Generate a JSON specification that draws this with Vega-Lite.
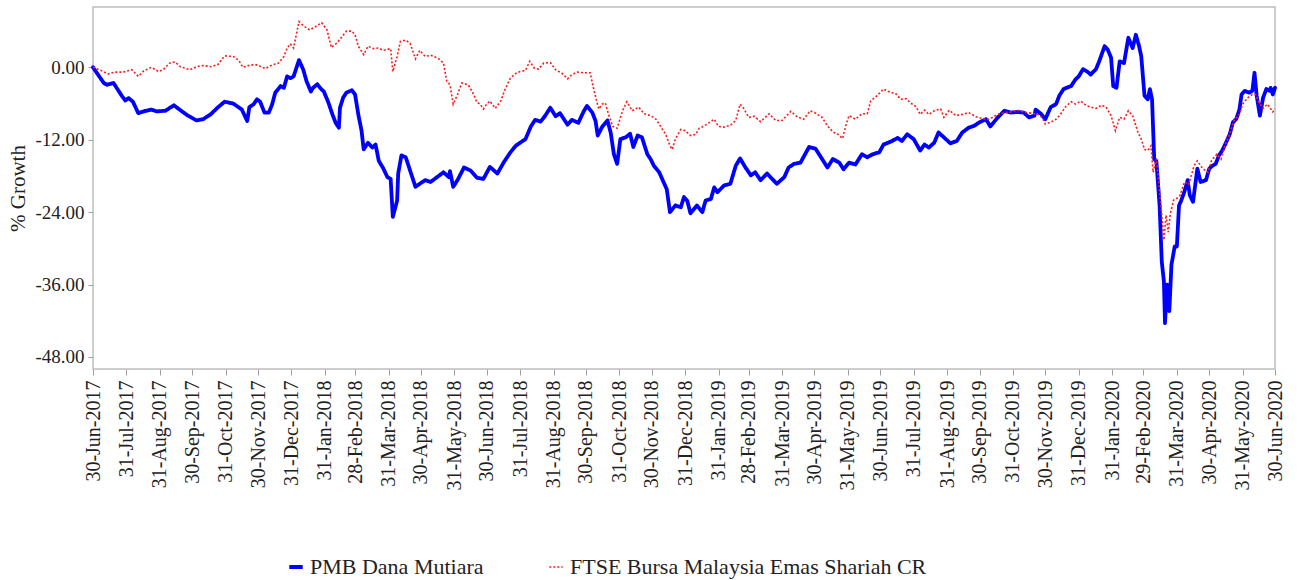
{
  "$schema": "https://vega.github.io/schema/vega-lite/v6.json",
  "autosize": {"type": "none"},
  "padding": {"left": 93, "top": 7, "right": 23, "bottom": 211},
  "width": 1182,
  "height": 362,
  "background": "white",
  "config": {
    "view": {"stroke": "#bfbfbf", "strokeWidth": 1.5},
    "axis": {"labelFont": "Liberation Serif", "titleFont": "Liberation Serif", "labelColor": "#222", "titleColor": "#222", "tickColor": "#a0a0a0", "domain": false, "grid": false},
    "legend": {"labelFont": "Liberation Serif"}
  },
  "datasets": {
    "series": [
      {"d":"2017-06-30","v":0,"s":"P"},{"d":"2017-07-10","v":-2.6,"s":"P"},{"d":"2017-07-13","v":-2.9,"s":"P"},{"d":"2017-07-19","v":-2.6,"s":"P"},{"d":"2017-07-27","v":-4.8,"s":"P"},{"d":"2017-07-30","v":-5.5,"s":"P"},{"d":"2017-08-02","v":-5.1,"s":"P"},{"d":"2017-08-06","v":-5.7,"s":"P"},{"d":"2017-08-11","v":-7.6,"s":"P"},{"d":"2017-08-16","v":-7.3,"s":"P"},{"d":"2017-08-23","v":-7.0,"s":"P"},{"d":"2017-08-28","v":-7.3,"s":"P"},{"d":"2017-09-05","v":-7.2,"s":"P"},{"d":"2017-09-13","v":-6.3,"s":"P"},{"d":"2017-09-19","v":-7.1,"s":"P"},{"d":"2017-09-26","v":-8.0,"s":"P"},{"d":"2017-10-04","v":-8.8,"s":"P"},{"d":"2017-10-10","v":-8.6,"s":"P"},{"d":"2017-10-17","v":-7.8,"s":"P"},{"d":"2017-10-24","v":-6.6,"s":"P"},{"d":"2017-10-30","v":-5.7,"s":"P"},{"d":"2017-11-07","v":-6.0,"s":"P"},{"d":"2017-11-15","v":-7.0,"s":"P"},{"d":"2017-11-20","v":-8.9,"s":"P"},{"d":"2017-11-22","v":-6.6,"s":"P"},{"d":"2017-11-26","v":-6.1,"s":"P"},{"d":"2017-11-29","v":-5.3,"s":"P"},{"d":"2017-12-02","v":-5.7,"s":"P"},{"d":"2017-12-06","v":-7.5,"s":"P"},{"d":"2017-12-10","v":-7.5,"s":"P"},{"d":"2017-12-13","v":-6.2,"s":"P"},{"d":"2017-12-16","v":-4.2,"s":"P"},{"d":"2017-12-21","v":-3.1,"s":"P"},{"d":"2017-12-24","v":-3.4,"s":"P"},{"d":"2017-12-27","v":-1.5,"s":"P"},{"d":"2017-12-30","v":-1.8,"s":"P"},
      {"d":"2018-01-02","v":-1.5,"s":"P"},{"d":"2018-01-07","v":1.2,"s":"P"},{"d":"2018-01-11","v":-0.4,"s":"P"},{"d":"2018-01-14","v":-2.3,"s":"P"},{"d":"2018-01-18","v":-4.0,"s":"P"},{"d":"2018-01-20","v":-3.4,"s":"P"},{"d":"2018-01-24","v":-2.8,"s":"P"},{"d":"2018-01-27","v":-3.5,"s":"P"},{"d":"2018-01-30","v":-4.0,"s":"P"},{"d":"2018-02-03","v":-5.7,"s":"P"},{"d":"2018-02-07","v":-7.8,"s":"P"},{"d":"2018-02-10","v":-9.2,"s":"P"},{"d":"2018-02-13","v":-10.0,"s":"P"},{"d":"2018-02-14","v":-6.7,"s":"P"},{"d":"2018-02-17","v":-5.0,"s":"P"},{"d":"2018-02-20","v":-4.2,"s":"P"},{"d":"2018-02-25","v":-3.8,"s":"P"},{"d":"2018-02-28","v":-4.5,"s":"P"},{"d":"2018-03-03","v":-7.8,"s":"P"},{"d":"2018-03-06","v":-10.5,"s":"P"},{"d":"2018-03-08","v":-13.6,"s":"P"},{"d":"2018-03-12","v":-12.5,"s":"P"},{"d":"2018-03-16","v":-13.3,"s":"P"},{"d":"2018-03-19","v":-12.8,"s":"P"},{"d":"2018-03-22","v":-15.5,"s":"P"},{"d":"2018-03-26","v":-16.7,"s":"P"},{"d":"2018-03-30","v":-18.2,"s":"P"},{"d":"2018-04-02","v":-18.5,"s":"P"},{"d":"2018-04-04","v":-24.8,"s":"P"},{"d":"2018-04-08","v":-22.1,"s":"P"},{"d":"2018-04-09","v":-17.6,"s":"P"},{"d":"2018-04-12","v":-14.6,"s":"P"},{"d":"2018-04-16","v":-14.9,"s":"P"},{"d":"2018-04-20","v":-17.1,"s":"P"},{"d":"2018-04-25","v":-19.8,"s":"P"},{"d":"2018-04-29","v":-19.3,"s":"P"},{"d":"2018-05-04","v":-18.7,"s":"P"},{"d":"2018-05-09","v":-19.0,"s":"P"},{"d":"2018-05-15","v":-18.2,"s":"P"},{"d":"2018-05-21","v":-17.4,"s":"P"},{"d":"2018-05-26","v":-18.2,"s":"P"},{"d":"2018-05-27","v":-17.2,"s":"P"},{"d":"2018-05-30","v":-19.8,"s":"P"},{"d":"2018-06-03","v":-18.7,"s":"P"},{"d":"2018-06-09","v":-16.6,"s":"P"},{"d":"2018-06-15","v":-17.1,"s":"P"},{"d":"2018-06-21","v":-18.3,"s":"P"},{"d":"2018-06-27","v":-18.5,"s":"P"},{"d":"2018-07-03","v":-16.5,"s":"P"},{"d":"2018-07-10","v":-17.6,"s":"P"},{"d":"2018-07-16","v":-15.7,"s":"P"},{"d":"2018-07-22","v":-14.1,"s":"P"},{"d":"2018-07-27","v":-13.0,"s":"P"},{"d":"2018-07-31","v":-12.5,"s":"P"},{"d":"2018-08-05","v":-11.9,"s":"P"},{"d":"2018-08-10","v":-9.8,"s":"P"},{"d":"2018-08-14","v":-8.7,"s":"P"},{"d":"2018-08-19","v":-9.0,"s":"P"},{"d":"2018-08-23","v":-8.1,"s":"P"},{"d":"2018-08-28","v":-6.7,"s":"P"},{"d":"2018-09-02","v":-8.1,"s":"P"},{"d":"2018-09-06","v":-7.6,"s":"P"},{"d":"2018-09-13","v":-9.5,"s":"P"},{"d":"2018-09-17","v":-8.7,"s":"P"},{"d":"2018-09-23","v":-9.2,"s":"P"},{"d":"2018-09-28","v":-7.3,"s":"P"},{"d":"2018-10-01","v":-6.4,"s":"P"},{"d":"2018-10-06","v":-7.5,"s":"P"},{"d":"2018-10-09","v":-8.9,"s":"P"},{"d":"2018-10-11","v":-11.3,"s":"P"},{"d":"2018-10-15","v":-9.9,"s":"P"},{"d":"2018-10-20","v":-8.8,"s":"P"},{"d":"2018-10-23","v":-10.8,"s":"P"},{"d":"2018-10-26","v":-14.4,"s":"P"},{"d":"2018-10-29","v":-16.0,"s":"P"},{"d":"2018-11-01","v":-11.9,"s":"P"},{"d":"2018-11-06","v":-11.6,"s":"P"},{"d":"2018-11-10","v":-11.0,"s":"P"},{"d":"2018-11-13","v":-13.2,"s":"P"},{"d":"2018-11-17","v":-11.3,"s":"P"},{"d":"2018-11-21","v":-11.6,"s":"P"},{"d":"2018-11-26","v":-14.4,"s":"P"},{"d":"2018-11-29","v":-15.2,"s":"P"},{"d":"2018-12-02","v":-16.3,"s":"P"},{"d":"2018-12-07","v":-17.4,"s":"P"},{"d":"2018-12-11","v":-19.0,"s":"P"},{"d":"2018-12-14","v":-20.2,"s":"P"},{"d":"2018-12-17","v":-24.0,"s":"P"},{"d":"2018-12-22","v":-22.9,"s":"P"},{"d":"2018-12-27","v":-23.2,"s":"P"},{"d":"2018-12-30","v":-21.5,"s":"P"},
      {"d":"2019-01-02","v":-22.1,"s":"P"},{"d":"2019-01-05","v":-24.2,"s":"P"},{"d":"2019-01-11","v":-22.9,"s":"P"},{"d":"2019-01-16","v":-24.0,"s":"P"},{"d":"2019-01-19","v":-22.1,"s":"P"},{"d":"2019-01-24","v":-21.8,"s":"P"},{"d":"2019-01-27","v":-19.9,"s":"P"},{"d":"2019-01-30","v":-20.7,"s":"P"},{"d":"2019-02-05","v":-19.6,"s":"P"},{"d":"2019-02-11","v":-19.3,"s":"P"},{"d":"2019-02-16","v":-16.3,"s":"P"},{"d":"2019-02-20","v":-15.1,"s":"P"},{"d":"2019-02-25","v":-16.6,"s":"P"},{"d":"2019-03-02","v":-17.9,"s":"P"},{"d":"2019-03-06","v":-17.4,"s":"P"},{"d":"2019-03-11","v":-18.7,"s":"P"},{"d":"2019-03-17","v":-17.6,"s":"P"},{"d":"2019-03-26","v":-19.3,"s":"P"},{"d":"2019-04-02","v":-18.2,"s":"P"},{"d":"2019-04-06","v":-16.6,"s":"P"},{"d":"2019-04-11","v":-16.0,"s":"P"},{"d":"2019-04-17","v":-15.8,"s":"P"},{"d":"2019-04-25","v":-13.2,"s":"P"},{"d":"2019-05-01","v":-13.5,"s":"P"},{"d":"2019-05-06","v":-14.9,"s":"P"},{"d":"2019-05-12","v":-16.6,"s":"P"},{"d":"2019-05-17","v":-15.2,"s":"P"},{"d":"2019-05-23","v":-15.8,"s":"P"},{"d":"2019-05-27","v":-16.9,"s":"P"},{"d":"2019-06-01","v":-15.8,"s":"P"},{"d":"2019-06-07","v":-16.1,"s":"P"},{"d":"2019-06-13","v":-14.4,"s":"P"},{"d":"2019-06-18","v":-14.9,"s":"P"},{"d":"2019-06-23","v":-14.4,"s":"P"},{"d":"2019-06-29","v":-14.1,"s":"P"},{"d":"2019-07-03","v":-12.8,"s":"P"},{"d":"2019-07-10","v":-12.3,"s":"P"},{"d":"2019-07-16","v":-11.7,"s":"P"},{"d":"2019-07-20","v":-12.2,"s":"P"},{"d":"2019-07-25","v":-11.1,"s":"P"},{"d":"2019-07-31","v":-11.9,"s":"P"},{"d":"2019-08-06","v":-13.8,"s":"P"},{"d":"2019-08-10","v":-12.8,"s":"P"},{"d":"2019-08-14","v":-13.3,"s":"P"},{"d":"2019-08-19","v":-12.5,"s":"P"},{"d":"2019-08-23","v":-10.8,"s":"P"},{"d":"2019-08-28","v":-11.6,"s":"P"},{"d":"2019-09-03","v":-12.6,"s":"P"},{"d":"2019-09-09","v":-12.2,"s":"P"},{"d":"2019-09-14","v":-10.8,"s":"P"},{"d":"2019-09-20","v":-10.0,"s":"P"},{"d":"2019-09-25","v":-9.7,"s":"P"},{"d":"2019-09-30","v":-9.1,"s":"P"},{"d":"2019-10-06","v":-8.6,"s":"P"},{"d":"2019-10-10","v":-9.8,"s":"P"},{"d":"2019-10-17","v":-8.3,"s":"P"},{"d":"2019-10-23","v":-7.2,"s":"P"},{"d":"2019-10-29","v":-7.5,"s":"P"},{"d":"2019-11-04","v":-7.4,"s":"P"},{"d":"2019-11-10","v":-7.5,"s":"P"},{"d":"2019-11-15","v":-8.3,"s":"P"},{"d":"2019-11-20","v":-8.0,"s":"P"},{"d":"2019-11-21","v":-7.0,"s":"P"},{"d":"2019-11-26","v":-7.7,"s":"P"},{"d":"2019-11-30","v":-8.6,"s":"P"},{"d":"2019-12-05","v":-6.6,"s":"P"},{"d":"2019-12-10","v":-6.1,"s":"P"},{"d":"2019-12-13","v":-4.7,"s":"P"},{"d":"2019-12-17","v":-3.6,"s":"P"},{"d":"2019-12-24","v":-3.1,"s":"P"},{"d":"2019-12-28","v":-2.0,"s":"P"},{"d":"2019-12-31","v":-1.5,"s":"P"},
      {"d":"2020-01-04","v":-0.3,"s":"P"},{"d":"2020-01-08","v":-0.7,"s":"P"},{"d":"2020-01-11","v":-1.2,"s":"P"},{"d":"2020-01-16","v":-0.3,"s":"P"},{"d":"2020-01-19","v":1.0,"s":"P"},{"d":"2020-01-24","v":3.5,"s":"P"},{"d":"2020-01-27","v":2.9,"s":"P"},{"d":"2020-01-30","v":1.6,"s":"P"},{"d":"2020-02-01","v":-3.1,"s":"P"},{"d":"2020-02-04","v":-3.4,"s":"P"},{"d":"2020-02-07","v":1.0,"s":"P"},{"d":"2020-02-11","v":0.7,"s":"P"},{"d":"2020-02-15","v":4.9,"s":"P"},{"d":"2020-02-19","v":3.2,"s":"P"},{"d":"2020-02-22","v":5.4,"s":"P"},{"d":"2020-02-25","v":3.5,"s":"P"},{"d":"2020-02-27","v":1.8,"s":"P"},{"d":"2020-03-01","v":-4.7,"s":"P"},{"d":"2020-03-04","v":-5.3,"s":"P"},{"d":"2020-03-06","v":-3.6,"s":"P"},{"d":"2020-03-08","v":-5.3,"s":"P"},{"d":"2020-03-10","v":-15.2,"s":"P"},{"d":"2020-03-12","v":-15.5,"s":"P"},{"d":"2020-03-15","v":-22.9,"s":"P"},{"d":"2020-03-17","v":-32.2,"s":"P"},{"d":"2020-03-19","v":-35.5,"s":"P"},{"d":"2020-03-20","v":-42.4,"s":"P"},{"d":"2020-03-22","v":-36.0,"s":"P"},{"d":"2020-03-24","v":-40.4,"s":"P"},{"d":"2020-03-26","v":-32.7,"s":"P"},{"d":"2020-03-29","v":-29.7,"s":"P"},{"d":"2020-03-31","v":-29.7,"s":"P"},{"d":"2020-04-02","v":-22.9,"s":"P"},{"d":"2020-04-04","v":-22.1,"s":"P"},{"d":"2020-04-07","v":-20.6,"s":"P"},{"d":"2020-04-10","v":-18.7,"s":"P"},{"d":"2020-04-12","v":-21.2,"s":"P"},{"d":"2020-04-15","v":-22.3,"s":"P"},{"d":"2020-04-19","v":-16.8,"s":"P"},{"d":"2020-04-22","v":-19.0,"s":"P"},{"d":"2020-04-27","v":-18.7,"s":"P"},{"d":"2020-04-30","v":-16.8,"s":"P"},{"d":"2020-05-03","v":-16.3,"s":"P"},{"d":"2020-05-06","v":-16.0,"s":"P"},{"d":"2020-05-09","v":-14.6,"s":"P"},{"d":"2020-05-12","v":-13.8,"s":"P"},{"d":"2020-05-15","v":-12.7,"s":"P"},{"d":"2020-05-19","v":-11.1,"s":"P"},{"d":"2020-05-22","v":-9.1,"s":"P"},{"d":"2020-05-25","v":-8.6,"s":"P"},{"d":"2020-05-28","v":-7.0,"s":"P"},{"d":"2020-05-30","v":-4.5,"s":"P"},{"d":"2020-06-02","v":-3.9,"s":"P"},{"d":"2020-06-06","v":-4.2,"s":"P"},{"d":"2020-06-09","v":-3.9,"s":"P"},{"d":"2020-06-11","v":-0.9,"s":"P"},{"d":"2020-06-13","v":-4.7,"s":"P"},{"d":"2020-06-16","v":-8.0,"s":"P"},{"d":"2020-06-19","v":-5.0,"s":"P"},{"d":"2020-06-22","v":-3.6,"s":"P"},{"d":"2020-06-25","v":-3.9,"s":"P"},{"d":"2020-06-26","v":-3.4,"s":"P"},{"d":"2020-06-28","v":-4.5,"s":"P"},{"d":"2020-06-30","v":-3.4,"s":"P"},
      {"d":"2017-06-30","v":0,"s":"F"},{"d":"2017-07-06","v":-0.4,"s":"F"},{"d":"2017-07-14","v":-1.1,"s":"F"},{"d":"2017-07-20","v":-0.8,"s":"F"},{"d":"2017-07-28","v":-0.8,"s":"F"},{"d":"2017-08-05","v":-0.4,"s":"F"},{"d":"2017-08-11","v":-1.5,"s":"F"},{"d":"2017-08-16","v":-0.6,"s":"F"},{"d":"2017-08-23","v":0,"s":"F"},{"d":"2017-08-30","v":-0.7,"s":"F"},{"d":"2017-09-03","v":-0.4,"s":"F"},{"d":"2017-09-09","v":0.7,"s":"F"},{"d":"2017-09-14","v":0.9,"s":"F"},{"d":"2017-09-19","v":0.1,"s":"F"},{"d":"2017-09-28","v":-0.4,"s":"F"},{"d":"2017-10-04","v":0.1,"s":"F"},{"d":"2017-10-10","v":0.3,"s":"F"},{"d":"2017-10-18","v":0.1,"s":"F"},{"d":"2017-10-24","v":0.5,"s":"F"},{"d":"2017-10-30","v":1.9,"s":"F"},{"d":"2017-11-07","v":1.8,"s":"F"},{"d":"2017-11-12","v":1.2,"s":"F"},{"d":"2017-11-16","v":0,"s":"F"},{"d":"2017-11-23","v":0.4,"s":"F"},{"d":"2017-11-29","v":0.4,"s":"F"},{"d":"2017-12-07","v":-0.2,"s":"F"},{"d":"2017-12-13","v":0.4,"s":"F"},{"d":"2017-12-19","v":0.7,"s":"F"},{"d":"2017-12-24","v":1.8,"s":"F"},{"d":"2017-12-27","v":3.2,"s":"F"},{"d":"2017-12-30","v":3.9,"s":"F"},
      {"d":"2018-01-02","v":3.2,"s":"F"},{"d":"2018-01-07","v":7.6,"s":"F"},{"d":"2018-01-11","v":6.9,"s":"F"},{"d":"2018-01-17","v":6.2,"s":"F"},{"d":"2018-01-22","v":6.7,"s":"F"},{"d":"2018-01-28","v":7.4,"s":"F"},{"d":"2018-02-02","v":6.2,"s":"F"},{"d":"2018-02-06","v":3.3,"s":"F"},{"d":"2018-02-11","v":4.0,"s":"F"},{"d":"2018-02-16","v":5.1,"s":"F"},{"d":"2018-02-20","v":6.0,"s":"F"},{"d":"2018-02-25","v":6.0,"s":"F"},{"d":"2018-02-28","v":5.4,"s":"F"},{"d":"2018-03-03","v":3.5,"s":"F"},{"d":"2018-03-08","v":2.1,"s":"F"},{"d":"2018-03-12","v":3.5,"s":"F"},{"d":"2018-03-17","v":3.1,"s":"F"},{"d":"2018-03-22","v":3.2,"s":"F"},{"d":"2018-03-26","v":2.8,"s":"F"},{"d":"2018-04-02","v":3.1,"s":"F"},{"d":"2018-04-04","v":-0.7,"s":"F"},{"d":"2018-04-08","v":1.8,"s":"F"},{"d":"2018-04-11","v":4.3,"s":"F"},{"d":"2018-04-16","v":4.5,"s":"F"},{"d":"2018-04-20","v":4.0,"s":"F"},{"d":"2018-04-25","v":1.4,"s":"F"},{"d":"2018-04-29","v":2.8,"s":"F"},{"d":"2018-05-04","v":1.8,"s":"F"},{"d":"2018-05-09","v":2.0,"s":"F"},{"d":"2018-05-16","v":1.5,"s":"F"},{"d":"2018-05-21","v":0.7,"s":"F"},{"d":"2018-05-24","v":-2.3,"s":"F"},{"d":"2018-05-27","v":-2.9,"s":"F"},{"d":"2018-05-30","v":-6.1,"s":"F"},{"d":"2018-06-03","v":-4.5,"s":"F"},{"d":"2018-06-07","v":-2.6,"s":"F"},{"d":"2018-06-13","v":-2.9,"s":"F"},{"d":"2018-06-18","v":-4.5,"s":"F"},{"d":"2018-06-21","v":-5.8,"s":"F"},{"d":"2018-06-24","v":-6.1,"s":"F"},{"d":"2018-06-27","v":-6.9,"s":"F"},{"d":"2018-06-30","v":-6.1,"s":"F"},{"d":"2018-07-03","v":-5.6,"s":"F"},{"d":"2018-07-08","v":-6.8,"s":"F"},{"d":"2018-07-13","v":-5.6,"s":"F"},{"d":"2018-07-17","v":-3.7,"s":"F"},{"d":"2018-07-22","v":-1.8,"s":"F"},{"d":"2018-07-27","v":-1.0,"s":"F"},{"d":"2018-07-31","v":-0.7,"s":"F"},{"d":"2018-08-05","v":-0.5,"s":"F"},{"d":"2018-08-09","v":1.0,"s":"F"},{"d":"2018-08-13","v":-0.1,"s":"F"},{"d":"2018-08-17","v":-0.3,"s":"F"},{"d":"2018-08-22","v":0.7,"s":"F"},{"d":"2018-08-28","v":0.8,"s":"F"},{"d":"2018-09-02","v":-0.4,"s":"F"},{"d":"2018-09-08","v":-1.0,"s":"F"},{"d":"2018-09-13","v":-1.9,"s":"F"},{"d":"2018-09-17","v":-1.2,"s":"F"},{"d":"2018-09-22","v":-0.8,"s":"F"},{"d":"2018-09-28","v":-0.9,"s":"F"},{"d":"2018-10-04","v":-0.9,"s":"F"},{"d":"2018-10-07","v":-3.4,"s":"F"},{"d":"2018-10-10","v":-5.6,"s":"F"},{"d":"2018-10-12","v":-6.9,"s":"F"},{"d":"2018-10-15","v":-6.1,"s":"F"},{"d":"2018-10-18","v":-5.9,"s":"F"},{"d":"2018-10-21","v":-7.8,"s":"F"},{"d":"2018-10-25","v":-9.8,"s":"F"},{"d":"2018-10-29","v":-10.1,"s":"F"},{"d":"2018-11-03","v":-7.2,"s":"F"},{"d":"2018-11-07","v":-5.7,"s":"F"},{"d":"2018-11-12","v":-7.2,"s":"F"},{"d":"2018-11-18","v":-6.6,"s":"F"},{"d":"2018-11-23","v":-7.7,"s":"F"},{"d":"2018-11-29","v":-8.0,"s":"F"},{"d":"2018-12-04","v":-8.6,"s":"F"},{"d":"2018-12-08","v":-9.7,"s":"F"},{"d":"2018-12-13","v":-11.1,"s":"F"},{"d":"2018-12-17","v":-13.0,"s":"F"},{"d":"2018-12-19","v":-13.6,"s":"F"},{"d":"2018-12-22","v":-11.9,"s":"F"},{"d":"2018-12-27","v":-10.3,"s":"F"},{"d":"2018-12-31","v":-10.5,"s":"F"},
      {"d":"2019-01-05","v":-11.3,"s":"F"},{"d":"2019-01-10","v":-11.1,"s":"F"},{"d":"2019-01-13","v":-10.1,"s":"F"},{"d":"2019-01-17","v":-9.8,"s":"F"},{"d":"2019-01-22","v":-9.2,"s":"F"},{"d":"2019-01-27","v":-8.6,"s":"F"},{"d":"2019-01-31","v":-9.8,"s":"F"},{"d":"2019-02-05","v":-9.9,"s":"F"},{"d":"2019-02-11","v":-9.6,"s":"F"},{"d":"2019-02-16","v":-8.8,"s":"F"},{"d":"2019-02-20","v":-6.1,"s":"F"},{"d":"2019-02-23","v":-6.7,"s":"F"},{"d":"2019-02-28","v":-8.3,"s":"F"},{"d":"2019-03-05","v":-8.1,"s":"F"},{"d":"2019-03-11","v":-9.0,"s":"F"},{"d":"2019-03-19","v":-7.7,"s":"F"},{"d":"2019-03-25","v":-8.8,"s":"F"},{"d":"2019-03-31","v":-8.8,"s":"F"},{"d":"2019-04-08","v":-7.3,"s":"F"},{"d":"2019-04-14","v":-8.2,"s":"F"},{"d":"2019-04-20","v":-8.6,"s":"F"},{"d":"2019-04-26","v":-7.2,"s":"F"},{"d":"2019-05-01","v":-7.6,"s":"F"},{"d":"2019-05-07","v":-8.3,"s":"F"},{"d":"2019-05-12","v":-9.7,"s":"F"},{"d":"2019-05-17","v":-10.7,"s":"F"},{"d":"2019-05-21","v":-11.0,"s":"F"},{"d":"2019-05-26","v":-11.8,"s":"F"},{"d":"2019-05-29","v":-9.7,"s":"F"},{"d":"2019-06-01","v":-8.0,"s":"F"},{"d":"2019-06-07","v":-8.6,"s":"F"},{"d":"2019-06-13","v":-7.7,"s":"F"},{"d":"2019-06-18","v":-7.7,"s":"F"},{"d":"2019-06-21","v":-5.6,"s":"F"},{"d":"2019-06-27","v":-4.7,"s":"F"},{"d":"2019-07-03","v":-3.6,"s":"F"},{"d":"2019-07-10","v":-4.2,"s":"F"},{"d":"2019-07-14","v":-4.3,"s":"F"},{"d":"2019-07-19","v":-5.3,"s":"F"},{"d":"2019-07-24","v":-5.2,"s":"F"},{"d":"2019-07-28","v":-5.9,"s":"F"},{"d":"2019-08-02","v":-6.5,"s":"F"},{"d":"2019-08-06","v":-7.8,"s":"F"},{"d":"2019-08-10","v":-7.1,"s":"F"},{"d":"2019-08-14","v":-7.8,"s":"F"},{"d":"2019-08-19","v":-7.2,"s":"F"},{"d":"2019-08-25","v":-6.9,"s":"F"},{"d":"2019-08-28","v":-8.3,"s":"F"},{"d":"2019-09-02","v":-7.1,"s":"F"},{"d":"2019-09-08","v":-8.0,"s":"F"},{"d":"2019-09-14","v":-7.8,"s":"F"},{"d":"2019-09-20","v":-7.5,"s":"F"},{"d":"2019-09-27","v":-8.2,"s":"F"},{"d":"2019-10-03","v":-8.5,"s":"F"},{"d":"2019-10-07","v":-8.7,"s":"F"},{"d":"2019-10-12","v":-8.3,"s":"F"},{"d":"2019-10-17","v":-7.8,"s":"F"},{"d":"2019-10-23","v":-7.5,"s":"F"},{"d":"2019-10-29","v":-7.4,"s":"F"},{"d":"2019-11-04","v":-7.1,"s":"F"},{"d":"2019-11-10","v":-7.4,"s":"F"},{"d":"2019-11-17","v":-7.6,"s":"F"},{"d":"2019-11-23","v":-7.8,"s":"F"},{"d":"2019-11-27","v":-8.3,"s":"F"},{"d":"2019-11-30","v":-9.4,"s":"F"},{"d":"2019-12-05","v":-9.1,"s":"F"},{"d":"2019-12-10","v":-8.6,"s":"F"},{"d":"2019-12-14","v":-7.8,"s":"F"},{"d":"2019-12-19","v":-6.5,"s":"F"},{"d":"2019-12-24","v":-5.7,"s":"F"},{"d":"2019-12-28","v":-6.1,"s":"F"},
      {"d":"2020-01-02","v":-5.6,"s":"F"},{"d":"2020-01-07","v":-6.3,"s":"F"},{"d":"2020-01-11","v":-6.6,"s":"F"},{"d":"2020-01-16","v":-6.8,"s":"F"},{"d":"2020-01-21","v":-6.3,"s":"F"},{"d":"2020-01-25","v":-6.5,"s":"F"},{"d":"2020-01-30","v":-8.0,"s":"F"},{"d":"2020-02-03","v":-10.5,"s":"F"},{"d":"2020-02-07","v":-8.3,"s":"F"},{"d":"2020-02-11","v":-8.6,"s":"F"},{"d":"2020-02-15","v":-7.2,"s":"F"},{"d":"2020-02-19","v":-8.0,"s":"F"},{"d":"2020-02-24","v":-10.8,"s":"F"},{"d":"2020-02-27","v":-11.9,"s":"F"},{"d":"2020-03-01","v":-13.6,"s":"F"},{"d":"2020-03-04","v":-13.8,"s":"F"},{"d":"2020-03-07","v":-13.0,"s":"F"},{"d":"2020-03-09","v":-17.4,"s":"F"},{"d":"2020-03-12","v":-15.2,"s":"F"},{"d":"2020-03-15","v":-20.6,"s":"F"},{"d":"2020-03-17","v":-24.5,"s":"F"},{"d":"2020-03-19","v":-28.6,"s":"F"},{"d":"2020-03-21","v":-24.5,"s":"F"},{"d":"2020-03-23","v":-27.3,"s":"F"},{"d":"2020-03-25","v":-24.2,"s":"F"},{"d":"2020-03-28","v":-22.0,"s":"F"},{"d":"2020-03-31","v":-21.7,"s":"F"},{"d":"2020-04-03","v":-21.2,"s":"F"},{"d":"2020-04-07","v":-19.0,"s":"F"},{"d":"2020-04-11","v":-19.4,"s":"F"},{"d":"2020-04-16","v":-16.3,"s":"F"},{"d":"2020-04-19","v":-15.5,"s":"F"},{"d":"2020-04-24","v":-16.8,"s":"F"},{"d":"2020-04-29","v":-17.4,"s":"F"},{"d":"2020-05-02","v":-15.5,"s":"F"},{"d":"2020-05-07","v":-14.4,"s":"F"},{"d":"2020-05-11","v":-15.2,"s":"F"},{"d":"2020-05-15","v":-12.7,"s":"F"},{"d":"2020-05-19","v":-11.1,"s":"F"},{"d":"2020-05-23","v":-8.8,"s":"F"},{"d":"2020-05-28","v":-7.8,"s":"F"},{"d":"2020-05-31","v":-6.1,"s":"F"},{"d":"2020-06-05","v":-5.0,"s":"F"},{"d":"2020-06-09","v":-4.5,"s":"F"},{"d":"2020-06-12","v":-4.5,"s":"F"},{"d":"2020-06-15","v":-5.8,"s":"F"},{"d":"2020-06-19","v":-6.8,"s":"F"},{"d":"2020-06-23","v":-6.1,"s":"F"},{"d":"2020-06-28","v":-7.4,"s":"F"},{"d":"2020-06-30","v":-6.9,"s":"F"}
    ]
  },
  "data": {"name": "series"},
  "layer": [
    {
      "data": {"values": [{"zero": 0}]},
      "mark": {"type": "rule", "color": "#a6a6a6", "strokeWidth": 1.5},
      "encoding": {"y": {"field": "zero", "type": "quantitative"}}
    },
    {
      "transform": [{"filter": "datum.s == 'P'"}],
      "mark": {"type": "line", "strokeJoin": "round", "strokeCap": "round"},
      "encoding": {
        "x": {"field": "d", "type": "temporal"},
        "y": {"field": "v", "type": "quantitative"},
        "color": {"field": "s", "type": "nominal"},
        "strokeDash": {"field": "s", "type": "nominal"},
        "strokeWidth": {"field": "s", "type": "nominal"}
      }
    },
    {
      "transform": [{"filter": "datum.s == 'F'"}],
      "mark": {"type": "line", "strokeCap": "butt"},
      "encoding": {
        "x": {"field": "d", "type": "temporal"},
        "y": {"field": "v", "type": "quantitative"},
        "color": {"field": "s", "type": "nominal"},
        "strokeDash": {"field": "s", "type": "nominal"},
        "strokeWidth": {"field": "s", "type": "nominal"}
      }
    }
  ],
  "resolve": {"scale": {"x": "shared", "y": "shared"}},
  "encoding": {
    "x": {
      "field": "d", "type": "temporal",
      "scale": {"type": "utc", "domain": [{"year": 2017, "month": 6, "date": 30, "utc": true}, {"year": 2020, "month": 6, "date": 30, "utc": true}], "nice": false},
      "axis": {
        "title": null,
        "values": [
          {"year":2017,"month":6,"date":30,"utc":true},{"year":2017,"month":7,"date":31,"utc":true},{"year":2017,"month":8,"date":31,"utc":true},{"year":2017,"month":9,"date":30,"utc":true},{"year":2017,"month":10,"date":31,"utc":true},{"year":2017,"month":11,"date":30,"utc":true},{"year":2017,"month":12,"date":31,"utc":true},
          {"year":2018,"month":1,"date":31,"utc":true},{"year":2018,"month":2,"date":28,"utc":true},{"year":2018,"month":3,"date":31,"utc":true},{"year":2018,"month":4,"date":30,"utc":true},{"year":2018,"month":5,"date":31,"utc":true},{"year":2018,"month":6,"date":30,"utc":true},{"year":2018,"month":7,"date":31,"utc":true},{"year":2018,"month":8,"date":31,"utc":true},{"year":2018,"month":9,"date":30,"utc":true},{"year":2018,"month":10,"date":31,"utc":true},{"year":2018,"month":11,"date":30,"utc":true},{"year":2018,"month":12,"date":31,"utc":true},
          {"year":2019,"month":1,"date":31,"utc":true},{"year":2019,"month":2,"date":28,"utc":true},{"year":2019,"month":3,"date":31,"utc":true},{"year":2019,"month":4,"date":30,"utc":true},{"year":2019,"month":5,"date":31,"utc":true},{"year":2019,"month":6,"date":30,"utc":true},{"year":2019,"month":7,"date":31,"utc":true},{"year":2019,"month":8,"date":31,"utc":true},{"year":2019,"month":9,"date":30,"utc":true},{"year":2019,"month":10,"date":31,"utc":true},{"year":2019,"month":11,"date":30,"utc":true},{"year":2019,"month":12,"date":31,"utc":true},
          {"year":2020,"month":1,"date":31,"utc":true},{"year":2020,"month":2,"date":29,"utc":true},{"year":2020,"month":3,"date":31,"utc":true},{"year":2020,"month":4,"date":30,"utc":true},{"year":2020,"month":5,"date":31,"utc":true},{"year":2020,"month":6,"date":30,"utc":true}
        ],
        "labelExpr": "utcFormat(datum.value, '%d-%b-%Y')",
        "labelAngle": -90,
        "labelFontSize": 20,
        "labelPadding": 5,
        "tickSize": 6,
        "labelOverlap": false,
        "labelFlush": false
      }
    },
    "y": {
      "field": "v", "type": "quantitative",
      "scale": {"domain": [-50, 10], "nice": false, "zero": false},
      "axis": {
        "title": "% Growth",
        "values": [0, -12, -24, -36, -48],
        "labelExpr": "replace(format(datum.value, '.2f'), '\u2212', '-')",
        "labelFontSize": 19,
        "labelPadding": 4,
        "tickSize": 5,
        "titleFontSize": 21,
        "titleFontWeight": "normal",
        "titlePadding": 6
      }
    },
    "color": {
      "field": "s", "type": "nominal",
      "scale": {"domain": ["P", "F"], "range": ["#0000ff", "#ff1a1a"]},
      "legend": {
        "title": null,
        "orient": "none",
        "legendX": 192,
        "legendY": 549,
        "direction": "horizontal",
        "columns": 2,
        "columnPadding": 61,
        "symbolType": "stroke",
        "symbolSize": 180,
        "labelFontSize": 22,
        "labelLimit": 0,
        "labelColor": "#222",
        "labelOffset": 3,
        "labelExpr": "datum.label == 'P' ? 'PMB Dana Mutiara' : 'FTSE Bursa Malaysia Emas Shariah CR'"
      }
    },
    "strokeDash": {
      "field": "s", "type": "nominal",
      "scale": {"domain": ["P", "F"], "range": [[1, 0], [2, 2]]},
      "legend": null
    },
    "strokeWidth": {
      "field": "s", "type": "nominal",
      "scale": {"type": "ordinal", "domain": ["P", "F"], "range": [3.8, 1.6]},
      "legend": null
    }
  }
}
